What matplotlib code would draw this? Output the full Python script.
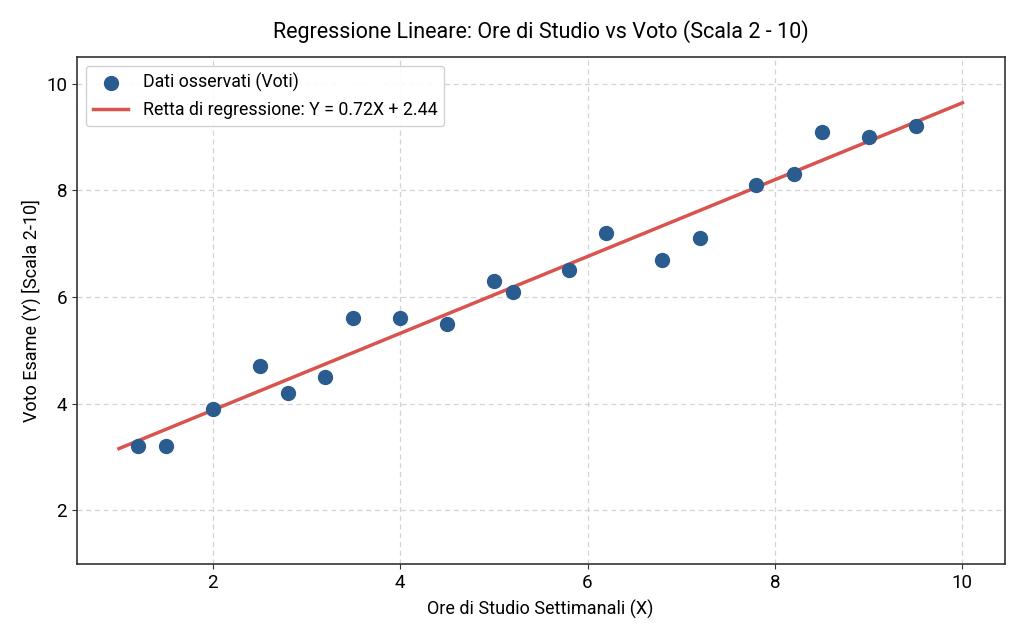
import matplotlib
matplotlib.use("Agg")
import matplotlib.pyplot as plt
import numpy as np

plt.rcParams['font.family'] = ['Roboto', 'DejaVu Sans']

ore = [1.2, 1.5, 2.0, 2.5, 2.8, 3.2, 3.5, 4.0, 4.5, 5.0, 5.2, 5.8, 6.2, 6.8, 7.2, 7.8, 8.2, 8.5, 9.0, 9.5]
voti = [3.2, 3.2, 3.9, 4.7, 4.2, 4.5, 5.6, 5.6, 5.5, 6.3, 6.1, 6.5, 7.2, 6.7, 7.1, 8.1, 8.3, 9.1, 9.0, 9.2]
slope = 0.72
intercept = 2.44
line_x = [1.0, 10.0]

fig = plt.figure(figsize=(10.24, 6.4), dpi=100)
ax = fig.add_axes([0.075, 0.119, 0.906, 0.792])

ax.scatter(ore, voti, s=100, color='#2b5c8f', zorder=3, label='Dati osservati (Voti)')
lx = np.array(line_x)
ax.plot(lx, slope * lx + intercept, color='#d9534f', lw=2.5, zorder=2,
        label=f'Retta di regressione: Y = {slope:.2f}X + {intercept:.2f}')

ax.set_ylim(1, 10.5)
ax.set_yticks([2, 4, 6, 8, 10])
ax.set_xticks([2, 4, 6, 8, 10])
ax.grid(True, linestyle=(0, (4, 3)), color='#d3d3d3', linewidth=0.9)
ax.set_axisbelow(True)
for s in ax.spines.values():
    s.set_color('#333333')
    s.set_linewidth(1.2)
ax.tick_params(labelsize=13.5, color='#333333')

ax.set_title('Regressione Lineare: Ore di Studio vs Voto (Scala 2 - 10)', fontsize=15.5, pad=14)
ax.set_xlabel('Ore di Studio Settimanali (X)', fontsize=13, labelpad=6)
ax.set_ylabel('Voto Esame (Y) [Scala 2-10]', fontsize=13)
ax.legend(loc='upper left', fontsize=12.8, framealpha=0.9)

fig.savefig('out.png', dpi=100)
